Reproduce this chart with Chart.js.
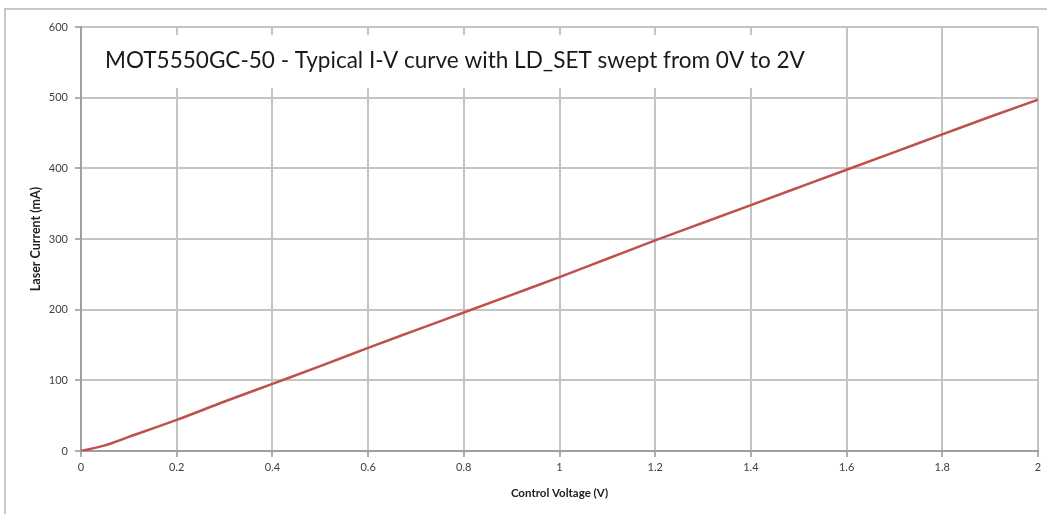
<!DOCTYPE html>
<html>
<head>
<meta charset="utf-8">
<script src="https://cdn.jsdelivr.net/npm/chart.js@4.4.0/dist/chart.umd.min.js"></script>
<style>
  html, body { margin: 0; padding: 0; background: #ffffff; }
  #wrap { position: relative; width: 1047px; height: 514px; }
  canvas { display: block; }
</style>
</head>
<body>
<div id="wrap"><canvas id="c" width="1047" height="514"></canvas></div>
<script>
// ---- data ----
const chartTitle = 'MOT5550GC-50 - Typical I-V curve with LD_SET swept from 0V to 2V';
const xAxisTitle = 'Control Voltage (V)';
const yAxisTitle = 'Laser Current (mA)';
const controlVoltage = [0, 0.05, 0.1, 0.2, 0.3, 0.4, 0.5, 0.6, 0.7, 0.8, 0.9, 1.0, 1.1, 1.2, 1.3, 1.4, 1.5, 1.6, 1.7, 1.8, 1.9, 2.0];
const laserCurrent   = [0, 8, 20, 44, 70, 95, 120, 146, 171, 196, 221, 246, 272, 298, 323, 348, 373, 398, 423, 448, 473, 497];
const xTickLabels = ['0', '0.2', '0.4', '0.6', '0.8', '1', '1.2', '1.4', '1.6', '1.8', '2'];
const yTickLabels = ['0', '100', '200', '300', '400', '500', '600'];

const points = controlVoltage.map((v, i) => ({ x: v, y: laserCurrent[i] }));

const frameAndTitle = {
  id: 'frameAndTitle',
  beforeDraw(chart) {
    const ctx = chart.ctx;
    ctx.save();
    ctx.strokeStyle = '#c8c8c8';
    ctx.lineWidth = 2;
    ctx.beginPath();
    ctx.moveTo(5, 514);
    ctx.lineTo(5, 9);
    ctx.lineTo(1047, 9);
    ctx.stroke();
    ctx.restore();
  },
  beforeDatasetsDraw(chart) {
    const ctx = chart.ctx;
    const a = chart.chartArea;
    ctx.save();
    ctx.fillStyle = '#ffffff';
    ctx.fillRect(a.left + 10, a.top + 8, 745, 53);
    ctx.fillStyle = '#1a1a1a';
    ctx.font = '22px Lato';
    const w = ctx.measureText(chartTitle).width;
    const size = 22 * 700 / w;
    ctx.font = size.toFixed(2) + 'px Lato';
    ctx.textBaseline = 'middle';
    ctx.textAlign = 'left';
    ctx.fillText(chartTitle, a.left + 24, a.top + 34);
    ctx.restore();
  }
};

new Chart(document.getElementById('c'), {
  type: 'line',
  data: {
    datasets: [{
      data: points,
      borderColor: '#c0504d',
      borderWidth: 2.5,
      pointRadius: 0,
      cubicInterpolationMode: 'monotone',
      fill: false
    }]
  },
  options: {
    responsive: false,
    animation: false,
    layout: { padding: { top: 27, right: 9, left: 0, bottom: 0 } },
    plugins: { legend: { display: false }, tooltip: { enabled: false }, title: { display: false } },
    scales: {
      x: {
        type: 'linear',
        min: 0, max: 2,
        afterFit: s => { s.height = 63; },
        afterBuildTicks: s => { s.ticks = xTickLabels.map((t, i) => ({ value: i * 0.2 })); },
        ticks: {
          callback: (v, i) => xTickLabels[i],
          color: '#404040',
          font: { family: 'Lato', size: 11 },
          padding: 4,
          maxRotation: 0,
          autoSkip: false
        },
        grid: { color: '#c4c4c4', lineWidth: 2, tickLength: 6, tickColor: '#b0b0b0' },
        border: { color: '#a0a0a0', width: 2 },
        title: { display: true, text: xAxisTitle, color: '#222', font: { family: 'Lato', size: 11.5, weight: 'bold' }, padding: { top: 0, bottom: 14 } }
      },
      y: {
        min: 0, max: 600,
        afterFit: s => { s.width = 81; },
        afterBuildTicks: s => { s.ticks = yTickLabels.map(t => ({ value: Number(t) })); },
        ticks: {
          callback: (v, i) => yTickLabels[i],
          color: '#404040',
          font: { family: 'Lato', size: 11 },
          padding: 7,
          autoSkip: false
        },
        grid: { color: '#c4c4c4', lineWidth: 2, tickLength: 6, tickColor: '#b0b0b0' },
        border: { color: '#a0a0a0', width: 2 },
        title: { display: true, text: yAxisTitle, color: '#222', font: { family: 'Lato', size: 12.5, weight: 'bold' }, padding: { top: 28, bottom: 0 } }
      }
    }
  },
  plugins: [frameAndTitle]
});
</script>
</body>
</html>
